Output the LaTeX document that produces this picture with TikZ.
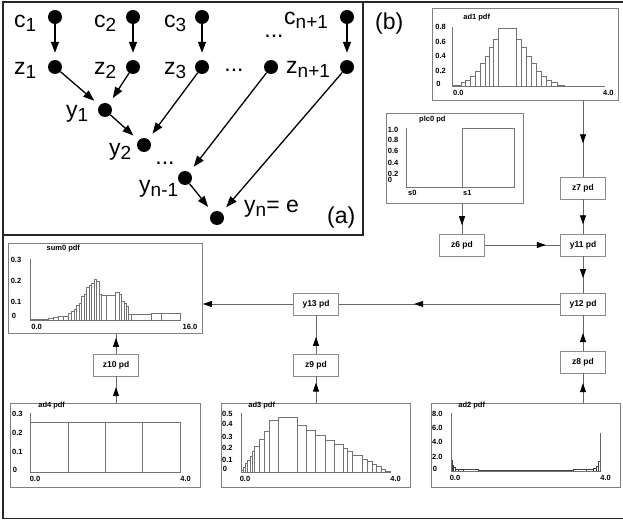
\documentclass[tikz,border=0pt]{standalone}
\usepackage{fontspec}
\setmainfont{Liberation Sans}
\usetikzlibrary{arrows.meta,decorations.markings}
\newcommand\sbs[1]{\raisebox{-4pt}{\fontsize{19}{19}\selectfont #1}}
\begin{document}
\begin{tikzpicture}[x=1pt,y=-1pt,
  dot/.style={circle,fill=black,inner sep=0pt,minimum size=14pt},
  big/.style={font=\fontsize{23}{26}\selectfont, inner sep=0pt},
  aarr/.style={-{Triangle[length=11pt,width=8pt]}, line width=1.3pt, shorten >=7pt},
  chart/.style={draw=black!50, line width=0.9pt, inner sep=0pt, anchor=north west},
  pdbox/.style={draw=black!45, line width=0.9pt, minimum width=45pt, minimum height=22pt, inner sep=0pt, font=\fontsize{8.5}{9}\selectfont\bfseries},
  conn/.style={draw=black!60, line width=0.8pt},
  marr/.style={postaction={decorate,decoration={markings,mark=at position #1 with {\arrow{Triangle[length=9pt,width=6pt,color=black]}}}}},
  clab/.style={font=\fontsize{7.5}{8}\selectfont\bfseries, inner sep=0pt},
  bar/.style={draw=black!55, line width=0.5pt, fill=white},
  axis/.style={draw=black!55, line width=0.6pt}
]
\useasboundingbox (0,0) rectangle (623,521);
% frames
\draw[line width=1.5pt, black!85] (623,2) -- (3,2) -- (3,518.5) -- (623,518.5);
\draw[line width=1.5pt, black!85] (3,235) -- (363,235) -- (363,2);

% ---------- panel (a)
\node[dot] (c1) at (55,17) {};
\node[dot] (c2) at (133,17) {};
\node[dot] (c3) at (202,17) {};
\node[dot] (cn) at (347,17) {};
\node[dot] (z1) at (55,67) {};
\node[dot] (z2) at (133,67) {};
\node[dot] (z3) at (202,67) {};
\node[dot] (zd) at (271,67) {};
\node[dot] (zn) at (347,67) {};
\node[dot] (y1) at (105,110) {};
\node[dot] (y2) at (144,145) {};
\node[dot] (ym) at (185,178) {};
\node[dot] (yn) at (217,218) {};

\node[big,anchor=base west] (lc1) at (14,28) {c\sbs{1}};
\node[big,anchor=base west] (lc2) at (94,28) {c\sbs{2}};
\node[big,anchor=base west] (lc3) at (164,28) {c\sbs{3}};
\node[big,anchor=base west] (lcn) at (284,25) {c\sbs{n+1}};
\node[big,anchor=base] (ldc) at (274,38) {...};
\node[big,anchor=base west] (lz1) at (14,75) {z\sbs{1}};
\node[big,anchor=base west] (lz2) at (94,75) {z\sbs{2}};
\node[big,anchor=base west] (lz3) at (164,75) {z\sbs{3}};
\node[big,anchor=base] (ldz) at (234,72) {...};
\node[big,anchor=base west] (lzn) at (286,74) {z\sbs{n+1}};
\node[big,anchor=base west] (ly1) at (66,118) {y\sbs{1}};
\node[big,anchor=base west] (ly2) at (109,156) {y\sbs{2}};
\node[big,anchor=base] (ldy) at (165,165) {...};
\node[big,anchor=base west] (lym) at (139,193) {y\sbs{n-1}};
\node[big,anchor=base west] (lyn) at (244,213) {y\sbs{n}= e};
\node[big,anchor=base west] (la) at (327,223) {(a)};
\node[big,anchor=base west] (lb) at (375,30) {(b)};

\foreach \a/\b in {c1/z1,c2/z2,c3/z3,cn/zn,z1/y1,z2/y1,y1/y2,z3/y2,zd/ym,ym/yn,zn/yn}
  \draw[aarr] (\a) -- (\b);

% ---------- charts
% ad1
\node[chart, minimum width=186pt, minimum height=92pt] (ad1) at (432,8) {};
\begin{scope}[shift={(425,0)}, scale=1/3]
  \foreach \a/\b/\h in {82/108/0.01,108/122/0.05,122/137/0.08,137/150/0.14,150/165/0.21,165/180/0.31,180/193/0.42,193/206/0.54,206/220/0.65,220/275/0.8,275/290/0.65,290/305/0.54,305/318/0.42,318/333/0.31,333/348/0.21,348/363/0.14,363/378/0.08,378/398/0.05,398/418/0.01}
    \draw[bar] (\a,258) rectangle (\b,{258-216*\h});
  \draw[axis] (82,80) -- (82,258) -- (540,258);
  \node[clab] (ad1t) at (155,52) {ad1 pdf};
  \foreach \t/\y [count=\i] in {0.8/82,0.6/125,0.4/168,0.2/212}
    \node[clab] (ad1y\i) at (47,\y) {\t};
  \node[clab] (ad1y0) at (40,252) {0};
  \node[clab] (ad1x0) at (100,278) {0.0};
  \node[clab] (ad1x1) at (550,278) {4.0};
\end{scope}

% plc0
\node[chart, minimum width=137pt, minimum height=90pt] (plc0) at (386,113) {};
\begin{scope}[shift={(375,110)}, scale=1/3]
  \draw[bar] (262,232) rectangle (418,55);
  \draw[axis] (95,55) -- (95,232) -- (418,232);
  \node[clab] (plct) at (172,30) {plc0 pd};
  \foreach \t/\y [count=\i] in {1.0/60,0.8/90,0.6/123,0.4/158,0.2/192}
    \node[clab, anchor=west] (plcy\i) at (38,\y) {\t};
  \node[clab, anchor=west] (plcy0) at (38,210) {0};
  \node[clab] (plcx0) at (112,250) {s0};
  \node[clab] (plcx1) at (277,250) {s1};
\end{scope}

% sum0
\node[chart, minimum width=194pt, minimum height=90pt] (sum0) at (8,243) {};
\begin{scope}[shift={(0,235)}, scale=1/3]
  \foreach \a/\b/\t in {92/130/254,130/145/252,145/160/250,160/175/248,175/190/245,190/205/243,205/215/235,215/222/230,222/230/222,230/237/212,237/245/205,245/252/183,252/260/178,260/267/158,267/275/150,275/282/145,282/290/133,290/298/140,298/305/178,305/318/180,318/345/180,345/358/172,358/365/178,365/372/200,372/378/205,378/385/215,385/395/237,395/455/237,455/485/235,485/540/235}
    \draw[bar] (\a,255) rectangle (\b,\t);
  \draw[axis] (92,72) -- (92,255) -- (540,255);
  \node[clab] (sumt) at (190,40) {sum0 pdf};
  \foreach \t/\y [count=\i] in {0.3/75,0.2/138,0.1/200}
    \node[clab] (sumy\i) at (48,\y) {\t};
  \node[clab] (sumy0) at (42,243) {0};
  \node[clab] (sumx0) at (110,275) {0.0};
  \node[clab] (sumx1) at (570,275) {16.0};
\end{scope}

% ad4
\node[chart, minimum width=190pt, minimum height=84pt] (ad4) at (10,403) {};
\begin{scope}[shift={(0,390)}, scale=1/3]
  \foreach \a/\b in {92/205,205/317,317/428,428/540}
    \draw[bar] (\a,246) rectangle (\b,98);
  \draw[axis] (92,68) -- (92,246) -- (540,246);
  \node[clab] (ad4t) at (155,47) {ad4 pdf};
  \foreach \t/\y [count=\i] in {0.3/72,0.2/128,0.1/187}
    \node[clab] (ad4y\i) at (52,\y) {\t};
  \node[clab] (ad4y0) at (45,240) {0};
  \node[clab] (ad4x0) at (105,268) {0.0};
  \node[clab] (ad4x1) at (557,268) {4.0};
\end{scope}

% ad3
\node[chart, minimum width=189pt, minimum height=84pt] (ad3) at (221,403) {};
\begin{scope}[shift={(210,390)}, scale=1/3]
  \foreach \a/\b/\t in {93/100/240,100/107/232,107/113/220,113/120/210,120/127/198,127/133/185,133/147/170,147/162/147,162/177/125,177/205/90,205/262/82,262/290/105,290/317/122,317/345/135,345/372/150,372/400/163,400/413/176,413/428/183,428/458/197,458/472/207,472/487/215,487/500/222,500/513/230,513/527/237,527/540/243}
    \draw[bar] (\a,246) rectangle (\b,\t);
  \draw[axis] (93,70) -- (93,246) -- (540,246);
  \node[clab] (ad3t) at (155,47) {ad3 pdf};
  \foreach \t/\y [count=\i] in {0.5/72,0.4/103,0.3/140,0.2/175,0.1/210}
    \node[clab] (ad3y\i) at (52,\y) {\t};
  \node[clab] (ad3y0) at (45,236) {0};
  \node[clab] (ad3x0) at (105,268) {0.0};
  \node[clab] (ad3x1) at (557,268) {4.0};
\end{scope}

% ad2
\node[chart, minimum width=189pt, minimum height=84pt] (ad2) at (431,403) {};
\begin{scope}[shift={(420,390)}, scale=1/3]
  \foreach \a/\b/\t in {93/96/212,96/100/226,100/105/233,105/115/237,115/130/238,130/175/239,175/460/241,460/500/239,500/520/237,520/530/234,530/535/228,535/540/215}
    \draw[bar, draw=black!75] (\a,243) rectangle (\b,\t);
  \draw[axis] (93,68) -- (93,243) -- (540,243);
  \draw[black!60, line width=0.7pt] (540,243) -- (540,130);
  \node[clab] (ad2t) at (155,47) {ad2 pdf};
  \foreach \t/\y [count=\i] in {8.0/72,6.0/115,4.0/157,2.0/200}
    \node[clab] (ad2y\i) at (52,\y) {\t};
  \node[clab] (ad2y0) at (45,238) {0};
  \node[clab] (ad2x0) at (105,265) {0.0};
  \node[clab] (ad2x1) at (557,265) {4.0};
\end{scope}

% ---------- pd boxes
\node[pdbox] (z7) at (583,188) {z7 pd};
\node[pdbox] (y11) at (583,245) {y11 pd};
\node[pdbox] (y12) at (583,304) {y12 pd};
\node[pdbox] (z8) at (583,362) {z8 pd};
\node[pdbox] (z6) at (462,245) {z6 pd};
\node[pdbox] (y13) at (316,304) {y13 pd};
\node[pdbox] (z9) at (316,365) {z9 pd};
\node[pdbox] (z10) at (116,365) {z10 pd};

% ---------- connectors (b)
\draw[conn, marr=0.56] (z7 |- ad1.south) -- (z7.north);
\draw[conn, marr=0.72] (z6 |- plc0.south) -- (z6.north);
\draw[conn, marr=0.73] (z7.south) -- (y11.north);
\draw[conn, marr=0.81] (z6.east) -- (y11.west);
\draw[conn, marr=0.6] (y11.south) -- (y12.north);
\draw[conn, marr=0.5] (z8.north) -- (y12.south);
\draw[conn, marr=0.67] (z8 |- ad2.north) -- (z8.south);
\draw[conn, marr=0.66] (y12.west) -- (y13.east);
\draw[conn, -{Triangle[length=9pt,width=6pt,color=black]}] (y13.west) -- (sum0.east |- y13.west);
\draw[conn, marr=0.44] (z9.north) -- (y13.south);
\draw[conn, marr=0.77] (z9 |- ad3.north) -- (z9.south);
\draw[conn, marr=0.8] (z10.north) -- (z10 |- sum0.south);
\draw[conn, marr=0.6] (z10 |- ad4.north) -- (z10.south);
\end{tikzpicture}
\end{document}
